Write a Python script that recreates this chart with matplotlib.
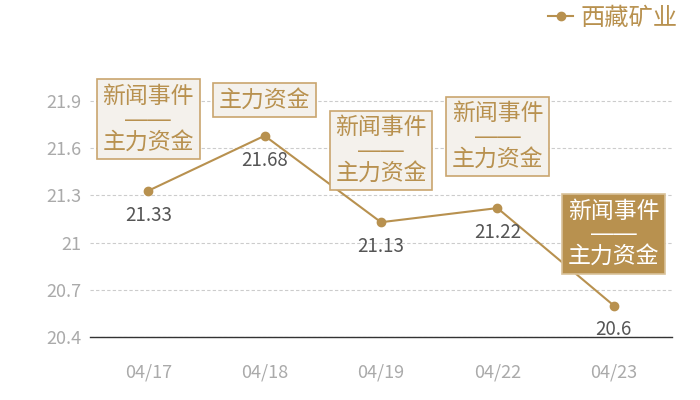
import matplotlib
matplotlib.use('Agg')
import matplotlib.pyplot as plt

plt.rcParams['font.family'] = ['Noto Sans CJK SC', 'DejaVu Sans']

dates = ['04/17', '04/18', '04/19', '04/22', '04/23']
prices = [21.33, 21.68, 21.13, 21.22, 20.6]
notes = ['新闻事件\n——\n主力资金', '主力资金', '新闻事件\n——\n主力资金',
         '新闻事件\n——\n主力资金', '新闻事件\n——\n主力资金']
highlight = [False, False, False, False, True]
yticks = [20.4, 20.7, 21, 21.3, 21.6, 21.9]
series_name = '西藏矿业'

gold = '#b8914f'

fig = plt.figure(figsize=(7, 4), dpi=100)
ax = fig.add_axes([0.1286, 0.1575, 0.8314, 0.7075])

x = list(range(len(dates)))
ax.plot(x, prices, color=gold, lw=1.5, marker='o', ms=6, label=series_name, zorder=3)

for i, v in enumerate(prices):
    ax.annotate(f'{v:g}', (i, v), xytext=(0, -10), textcoords='offset points',
                ha='center', va='top', fontsize=13.5, color='#555555', weight='light')
    if highlight[i]:
        fc, ec, tc = gold, '#d9c29a', 'white'
    else:
        fc, ec, tc = '#f4f1ec', '#c9a56e', gold
    off = 17.5 if '\n' not in notes[i] else 27
    ax.annotate(notes[i], (i, v), xytext=(0, off), textcoords='offset points',
                ha='center', va='bottom', fontsize=16.5, color=tc, weight='light',
                family=['Liberation Sans', 'Noto Sans CJK SC'],
                linespacing=0.98, zorder=4,
                bbox=dict(boxstyle='square,pad=0.25', fc=fc, ec=ec, lw=1.2))

ax.set_xlim(-0.5, len(dates) - 0.5)
ax.set_ylim(20.4, 22.2)
ax.set_xticks(x)
ax.set_xticklabels(dates)
ax.set_yticks(yticks)
ax.set_yticklabels([f'{t:g}' for t in yticks])
ax.tick_params(length=0, labelsize=13, labelcolor='#aaaaaa')
ax.tick_params(axis='y', pad=6)
ax.tick_params(axis='x', pad=19)
for lbl in ax.get_xticklabels() + ax.get_yticklabels():
    lbl.set_fontweight('light')

ax.grid(axis='y', color='#cccccc', ls=(0, (3, 2)), lw=0.8)
for s in ['top', 'right', 'left']:
    ax.spines[s].set_visible(False)
ax.spines['bottom'].set_color('#333333')
ax.spines['bottom'].set_linewidth(1)

leg = fig.legend(loc='upper right', bbox_to_anchor=(0.988, 1.025), frameon=False,
                 fontsize=17.5, handlelength=1.0, handletextpad=0.3, borderaxespad=0.2)
for t in leg.get_texts():
    t.set_color(gold)
    t.set_fontweight('light')

plt.savefig('out.png')
